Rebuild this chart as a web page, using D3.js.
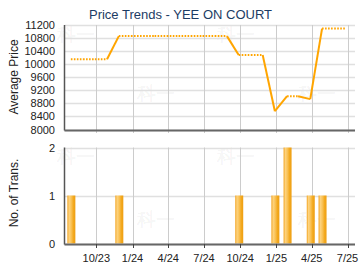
<!DOCTYPE html>
<html><head><meta charset="utf-8">
<script src="https://cdn.jsdelivr.net/npm/d3@7"></script>
<style>body{margin:0;background:#fff}svg{display:block}text{font-family:"Liberation Sans",Arial,sans-serif}</style>
</head><body><svg id="c" width="360" height="270"></svg>
<script>
const title = "Price Trends - YEE ON COURT";
const months = ["2023-08","2023-09","2023-10","2023-11","2023-12","2024-01","2024-02","2024-03","2024-04","2024-05","2024-06","2024-07","2024-08","2024-09","2024-10","2024-11","2024-12","2025-01","2025-02","2025-03","2025-04","2025-05","2025-06","2025-07"];
const prices = [10150,10150,10150,10150,10860,10860,10860,10860,10860,10860,10860,10860,10860,10860,10280,10280,10280,8560,9020,9020,8930,11090,11090,11090];
const trans = [1,0,0,0,1,0,0,0,0,0,0,0,0,0,1,0,0,1,2,0,1,1,0,0];
const priceTicks = [8000,8400,8800,9200,9600,10000,10400,10800,11200];
const transTicks = [0,1,2];
const xTickDates = ["2023-10","2024-01","2024-04","2024-07","2024-10","2025-01","2025-04","2025-07"];
const xTickLabels = ["10/23","1/24","4/24","7/24","10/24","1/25","4/25","7/25"];

const parse = d3.timeParse("%Y-%m");
const dates = months.map(parse);
const svg = d3.select("#c");
const L = 64.5, R = 355;
const x = d3.scaleTime().domain([new Date(2023,6,12), new Date(2025,6,20)]).range([L, R]);
const yP = d3.scaleLinear().domain([8000,11200]).range([129.5,25]);
const yT = d3.scaleLinear().domain([0,2]).range([243.5,147.5]);

const defs = svg.append("defs");
const g = defs.append("linearGradient").attr("id","bg").attr("x1","0").attr("x2","1").attr("y1","0").attr("y2","0");
[["0%","#F2A21C"],["22%","#FDD37F"],["45%","#FAC55E"],["75%","#F3A91E"],["100%","#EE9E12"]].forEach(s=>g.append("stop").attr("offset",s[0]).attr("stop-color",s[1]));

// watermarks
const wm = [[76,41],[236,41],[156,100],[317,100],[76,163],[236,163],[156,226],[317,226]];
svg.append("g").selectAll("text").data(wm).join("text")
  .attr("x",d=>d[0]).attr("y",d=>d[1]).attr("text-anchor","middle")
  .attr("font-family","Noto Sans CJK SC").attr("font-weight","bold").attr("font-size",19)
  .attr("fill","#000").attr("fill-opacity",0.045).text("科一");

function panel(y, ticks, yTop, yBot) {
  const gp = svg.append("g");
  gp.selectAll("line.h").data(ticks).join("line")
    .attr("x1",L).attr("x2",R).attr("y1",d=>Math.round(y(d))+0.5).attr("y2",d=>Math.round(y(d))+0.5)
    .attr("stroke","#e0e0e0").attr("stroke-width",1.5);
  gp.selectAll("line.v").data(xTickDates.map(parse)).join("line")
    .attr("x1",d=>Math.round(x(d))+0.5).attr("x2",d=>Math.round(x(d))+0.5).attr("y1",yTop).attr("y2",yBot+3)
    .attr("stroke","#cccccc").attr("stroke-width",1);
  gp.selectAll("text.yt").data(ticks).join("text")
    .attr("x",55).attr("y",d=>y(d)+4).attr("text-anchor","end").attr("font-size",11).attr("fill","#222").text(d=>d);
  return gp;
}
panel(yP, priceTicks, 25, 130);
panel(yT, transTicks, 147.5, 244);

// bars
svg.append("g").selectAll("rect").data(dates.map((d,i)=>({d,v:trans[i]})).filter(e=>e.v>0)).join("rect")
  .attr("x",e=>x(e.d)-5).attr("width",8).attr("y",e=>yT(e.v)).attr("height",e=>yT(0)-yT(e.v))
  .attr("fill","url(#bg)");

// price line segments
const pts = dates.map((d,i)=>({d,v:prices[i],t:trans[i]}));
const segs = [];
for (let i=1;i<pts.length;i++) segs.push({a:pts[i-1],b:pts[i],solid:pts[i].t>0});
svg.append("g").selectAll("line").data(segs).join("line")
  .attr("x1",s=>x(s.a.d)-1.5).attr("y1",s=>yP(s.a.v)).attr("x2",s=>x(s.b.d)-1.5).attr("y2",s=>yP(s.b.v))
  .attr("stroke","#FFA500").attr("stroke-width",2)
  .attr("stroke-dasharray",s=>s.solid?null:"1.6,1.4");

// axes lines
[[25,130.5],[147.5,244.5]].forEach(([t,b])=>{
  svg.append("line").attr("x1",L).attr("x2",L).attr("y1",t).attr("y2",b).attr("stroke","#555").attr("stroke-width",1.5);
  svg.append("line").attr("x1",L).attr("x2",R).attr("y1",b).attr("y2",b).attr("stroke","#666").attr("stroke-width",2);
});
svg.append("g").selectAll("line").data(xTickDates.map(parse)).join("line")
  .attr("x1",d=>Math.round(x(d))+0.5).attr("x2",d=>Math.round(x(d))+0.5).attr("y1",244).attr("y2",248)
  .attr("stroke","#444").attr("stroke-width",1);

svg.append("g").selectAll("text").data(xTickDates.map(parse)).join("text")
  .attr("x",d=>x(d)).attr("y",262).attr("text-anchor","middle").attr("font-size",11).attr("fill","#222")
  .text((d,i)=>xTickLabels[i]);

svg.append("text").attr("x",180.5).attr("y",19).attr("text-anchor","middle").attr("font-size",13).attr("fill","#1c3c64").text(title);
svg.append("text").attr("transform","translate(18,77) rotate(-90)").attr("text-anchor","middle").attr("font-size",12).attr("fill","#222").text("Average Price");
svg.append("text").attr("transform","translate(18,193) rotate(-90)").attr("text-anchor","middle").attr("font-size",12).attr("fill","#222").text("No. of Trans.");
</script></body></html>
